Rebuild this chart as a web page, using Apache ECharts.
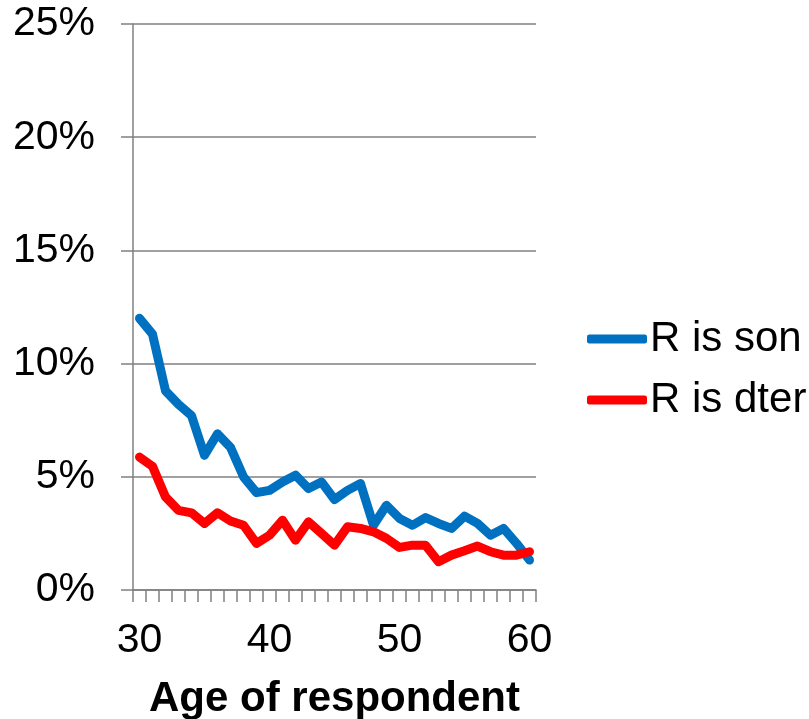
<!DOCTYPE html>
<html>
<head>
<meta charset="utf-8">
<script src="https://cdn.jsdelivr.net/npm/echarts@6/dist/echarts.min.js"></script>
<style>html,body{margin:0;padding:0;background:#fff}#c{width:809px;height:719px}</style>
</head>
<body>
<div id="c"></div>
<script>
const ages = [30,31,32,33,34,35,36,37,38,39,40,41,42,43,44,45,46,47,48,49,50,51,52,53,54,55,56,57,58,59,60];
const sonValues = [12.0,11.3,8.8,8.2,7.7,5.95,6.9,6.3,5.0,4.3,4.4,4.77,5.07,4.48,4.77,4.0,4.4,4.7,2.86,3.74,3.16,2.86,3.2,2.94,2.72,3.26,2.94,2.42,2.72,2.06,1.32];
const dterValues = [5.87,5.46,4.11,3.52,3.41,2.94,3.41,3.05,2.86,2.06,2.42,3.08,2.2,3.01,2.5,1.98,2.79,2.72,2.57,2.28,1.88,1.98,1.98,1.25,1.54,1.73,1.94,1.69,1.54,1.54,1.69];
const seriesNames = ['R is son','R is dter'];
const xAxisTitle = 'Age of respondent';

const chart = echarts.init(document.getElementById('c'));
const font = 'Liberation Sans, Arial, sans-serif';
chart.setOption({
  animation: false,
  textStyle: {fontFamily: font},
  grid: {left: 133, right: 273, top: 24, bottom: 129, containLabel: false, outerBoundsMode: 'none'},
  legend: {
    orient: 'vertical', left: 587, top: 318, padding: 0,
    itemWidth: 60, itemHeight: 9, itemGap: 19,
    icon: 'roundRect',
    textStyle: {fontSize: 42, color: '#000', fontFamily: font, lineHeight: 42, padding: [0,0,0,-2]},
    data: seriesNames
  },
  xAxis: {
    type: 'category', data: ages, boundaryGap: true,
    axisLine: {lineStyle: {color: '#808080', width: 1.5}},
    axisTick: {show: true, interval: 0, length: 12, lineStyle: {color: '#808080', width: 1.5}},
    axisLabel: {interval: 9, fontSize: 41, color: '#000', margin: 30, fontFamily: font},
    name: xAxisTitle, nameLocation: 'middle', nameGap: 88,
    nameTextStyle: {fontSize: 42, fontWeight: 'bold', color: '#000', fontFamily: font}
  },
  yAxis: {
    type: 'value', min: 0, max: 25, interval: 5,
    axisLine: {show: true, lineStyle: {color: '#808080', width: 1.5}},
    axisTick: {show: true, length: 12, lineStyle: {color: '#808080', width: 1.5}},
    axisLabel: {formatter: '{value}%', fontSize: 41, color: '#000', margin: 38, fontFamily: font},
    splitLine: {lineStyle: {color: '#808080', width: 1.5}}
  },
  series: [
    {name: seriesNames[0], type: 'line', data: sonValues, showSymbol: false, symbol: 'none',
     lineStyle: {color: '#0070C0', width: 9, cap: 'round', join: 'round'}, itemStyle: {color: '#0070C0'}},
    {name: seriesNames[1], type: 'line', data: dterValues, showSymbol: false, symbol: 'none',
     lineStyle: {color: '#FF0000', width: 9, cap: 'round', join: 'round'}, itemStyle: {color: '#FF0000'}}
  ]
});
</script>
</body>
</html>
